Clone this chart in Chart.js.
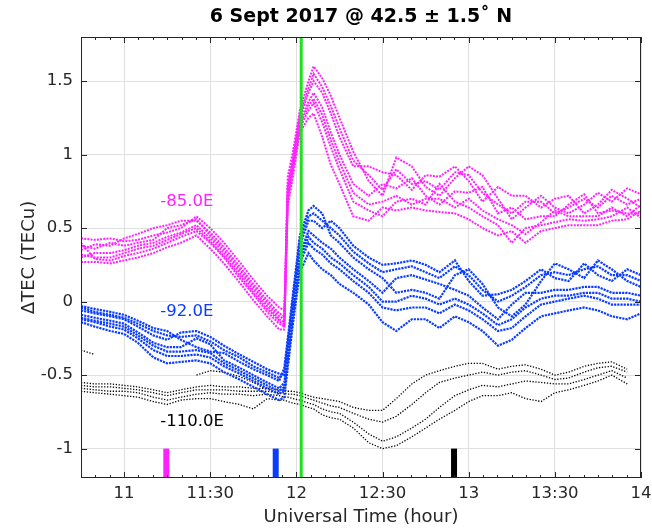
<!DOCTYPE html>
<html>
<head>
<meta charset="utf-8">
<script src="https://cdn.jsdelivr.net/npm/chart.js@4.4.0/dist/chart.umd.min.js"></script>
<style>
  html, body { margin: 0; padding: 0; background: #fff; }
  #wrap { width: 652px; height: 531px; }
</style>
</head>
<body>
<div id="wrap"><canvas id="tec"></canvas></div>
<script>
// sample times (UT, decimal hours)
const times = [10.75, 10.83, 10.92, 11.0, 11.08, 11.17, 11.25, 11.33, 11.42, 11.5,
  11.58, 11.67, 11.75, 11.83, 11.9, 11.93, 11.95, 11.98, 12.02, 12.07,
  12.1, 12.15, 12.2, 12.25, 12.33, 12.42, 12.5, 12.58, 12.67, 12.75,
  12.83, 12.92, 13.0, 13.08, 13.17, 13.25, 13.33, 13.42, 13.5, 13.58,
  13.67, 13.75, 13.83, 13.92, 14.0];

// -85.0E (magenta) satellite tracks
const mag1 = [.43,.42,.43,.41,.42,.45,.47,.50,.58,.50,.40,.27,.15,.04,-.04,-.06,.85,1.02,1.30,1.50,1.60,1.52,1.40,1.25,1.02,.82,.72,.98,.92,.78,.72,.84,.92,.86,.70,.56,.64,.72,.64,.60,.66,.74,.68,.77,.73];
const mag2 = [.35,.39,.38,.43,.46,.50,.52,.55,.55,.47,.37,.24,.12,.01,-.08,-.10,.80,.98,1.25,1.42,1.50,1.42,1.28,1.12,.92,.92,.88,.86,.76,.86,.85,.92,.82,.68,.78,.72,.72,.64,.70,.72,.60,.66,.76,.70,.64];
const mag3 = [.30,.33,.33,.35,.38,.40,.44,.47,.52,.43,.33,.20,.08,-.03,-.12,-.14,.75,.93,1.22,1.36,1.42,1.32,1.15,1.00,.80,.72,.80,.77,.84,.72,.66,.75,.74,.78,.60,.64,.56,.58,.58,.66,.73,.60,.62,.60,.60];
const mag4 = [.40,.29,.28,.31,.33,.36,.40,.44,.48,.40,.30,.16,.05,-.07,-.15,-.17,.70,.90,1.18,1.30,1.35,1.22,1.05,.90,.68,.62,.58,.68,.70,.66,.80,.68,.64,.58,.52,.40,.50,.52,.54,.56,.55,.56,.58,.64,.57];
const mag5 = [.27,.27,.26,.28,.30,.33,.37,.40,.45,.36,.26,.13,.01,-.10,-.19,-.19,.65,.85,1.15,1.25,1.28,1.12,.93,.80,.58,.55,.64,.62,.64,.62,.61,.60,.56,.50,.45,.48,.40,.48,.50,.52,.52,.52,.55,.56,.62];
const mag6 = [.38,.36,.40,.38,.40,.42,.50,.52,.56,.45,.35,.22,.10,-.01,-.10,-.12,.78,.96,1.27,1.45,1.55,1.46,1.33,1.18,.96,.86,.76,.90,.80,.82,.76,.88,.86,.74,.66,.60,.68,.68,.60,.64,.70,.64,.72,.66,.70];
const mag7 = [.32,.30,.30,.33,.36,.38,.42,.46,.50,.41,.31,.18,.06,-.05,-.13,-.16,.72,.92,1.20,1.33,1.38,1.27,1.10,.95,.74,.66,.68,.72,.66,.70,.70,.64,.70,.62,.56,.52,.46,.54,.62,.58,.58,.58,.64,.58,.66];

// -92.0E (blue) satellite tracks
const blu1 = [-.03,-.05,-.07,-.09,-.13,-.18,-.20,-.26,-.31,-.34,-.35,-.41,-.46,-.50,-.54,-.45,-.25,.05,.45,.62,.65,.60,.45,.40,.30,.22,.16,.06,.08,.06,.02,.18,.22,.12,-.04,-.10,-.02,.14,.26,.22,.16,.28,.22,.14,.10];
const blu2 = [-.06,-.08,-.10,-.12,-.17,-.23,-.26,-.21,-.20,-.24,-.30,-.36,-.41,-.46,-.49,-.50,-.30,.00,.38,.55,.55,.50,.55,.50,.38,.30,.25,.26,.28,.25,.20,.28,.14,.04,.05,.08,.14,.22,.16,.14,.26,.18,.14,.22,.18];
const blu3 = [-.09,-.11,-.13,-.15,-.21,-.28,-.31,-.31,-.25,-.29,-.40,-.45,-.50,-.55,-.59,-.55,-.35,-.05,.32,.48,.45,.40,.36,.30,.22,.14,.06,.16,.18,.15,.12,.08,.04,-.04,-.12,-.02,.06,.06,.08,.08,.10,.10,.06,.06,.04];
const blu4 = [-.12,-.14,-.17,-.19,-.25,-.33,-.37,-.37,-.36,-.38,-.44,-.49,-.54,-.59,-.63,-.60,-.40,-.10,.26,.40,.36,.32,.26,.22,.14,.06,-.04,-.06,-.04,-.04,-.08,-.02,-.06,-.12,-.20,-.18,-.10,-.02,.00,.02,.04,.02,-.02,-.02,-.02];
const blu5 = [-.14,-.17,-.20,-.22,-.28,-.38,-.42,-.41,-.40,-.42,-.48,-.53,-.58,-.63,-.67,-.65,-.45,-.15,.20,.33,.28,.22,.18,.12,.06,-.02,-.14,-.20,-.12,-.12,-.18,-.10,-.14,-.20,-.30,-.26,-.18,-.10,-.08,-.06,-.04,-.06,-.10,-.12,-.08];
const blu6 = [-.04,-.07,-.09,-.11,-.15,-.20,-.23,-.24,-.23,-.27,-.33,-.38,-.44,-.48,-.52,-.48,-.28,.02,.42,.58,.60,.55,.50,.45,.34,.26,.20,.22,.24,.20,.16,.24,.18,.08,.00,.04,.10,.18,.20,.18,.22,.24,.18,.18,.14];
const blu7 = [-.11,-.13,-.15,-.17,-.23,-.30,-.34,-.34,-.33,-.35,-.42,-.47,-.52,-.57,-.61,-.58,-.38,-.08,.29,.44,.40,.36,.30,.26,.18,.10,.00,.00,.04,.02,-.02,.02,-.02,-.08,-.16,-.12,-.04,.02,.04,.04,.06,.06,.02,.02,.00];

// -110.0E (black) satellite tracks
const blk1 = [-.33,-.36,null,null,null,null,null,null,-.50,-.47,-.48,-.51,-.55,-.60,null,null,null,null,null,null,null,null,null,null,null,null,null,null,null,null,null,null,null,null,null,null,null,null,null,null,null,null,null,null,null];
const blk2 = [-.55,-.56,-.56,-.57,-.58,-.60,-.62,-.60,-.58,-.57,-.58,-.58,-.59,-.59,-.60,-.60,-.61,-.61,-.62,-.64,-.65,-.66,-.67,-.68,-.72,-.74,-.74,-.66,-.56,-.50,-.47,-.44,-.42,-.42,-.46,-.44,-.43,-.46,-.50,-.48,-.44,-.42,-.41,-.46,null];
const blk3 = [-.57,-.58,-.58,-.59,-.60,-.62,-.64,-.62,-.60,-.60,-.60,-.61,-.61,-.61,-.62,-.62,-.63,-.63,-.64,-.66,-.67,-.69,-.71,-.72,-.76,-.80,-.82,-.78,-.70,-.62,-.55,-.52,-.50,-.48,-.50,-.48,-.47,-.50,-.53,-.52,-.48,-.45,-.44,-.48,null];
const blk4 = [-.59,-.60,-.61,-.61,-.62,-.65,-.67,-.65,-.63,-.62,-.63,-.63,-.64,-.63,-.64,-.65,-.65,-.66,-.67,-.69,-.70,-.73,-.75,-.76,-.82,-.90,-.95,-.92,-.86,-.80,-.72,-.64,-.60,-.57,-.58,-.56,-.54,-.55,-.56,-.56,-.53,-.50,-.47,-.52,null];
const blk5 = [-.61,-.62,-.63,-.64,-.65,-.68,-.70,-.67,-.66,-.66,-.68,-.70,-.73,-.66,-.67,-.67,-.68,-.69,-.70,-.72,-.73,-.77,-.79,-.80,-.86,-.96,-1.00,-.98,-.92,-.86,-.80,-.74,-.68,-.64,-.64,-.62,-.66,-.68,-.62,-.60,-.57,-.54,-.50,-.56,null];

const xTickValues = [11, 11.5, 12, 12.5, 13, 13.5, 14];
const xTickLabels = ['11', '11:30', '12', '12:30', '13', '13:30', '14'];
const yTickValues = [-1, -0.5, 0, 0.5, 1, 1.5];
const yTickLabels = ['-1', '-0.5', '0', '0.5', '1', '1.5'];

const bandNames = ['-85.0E', '-92.0E', '-110.0E'];
const bandLabelTime = [11.21, 11.21, 11.21];
const bandLabelValue = [0.68, -0.07, -0.82];

const markerTimes = [11.245, 11.88, 12.915];
const markerRange = [-1.2, -1.0];
const onsetTime = 12.028;

const TITLE = '6 Sept 2017 @ 42.5 \u00B1 1.5\u02DA N';
const MAGENTA = '#ff22ff';
const BLUE = '#0a3cff';
const BLACK = '#000000';
const GREEN = '#1ee01e';
const AXIS = '#262626';
const FONT = '"DejaVu Sans", sans-serif';
const bandColors = [MAGENTA, BLUE, BLACK];

function trace(values, color, width, dash) {
  return {
    data: times.map((t, i) => ({ x: t, y: values[i] })),
    borderColor: color,
    borderWidth: width,
    borderDash: dash,
    pointRadius: 0,
    spanGaps: false,
    tension: 0,
    fill: false,
  };
}

function vline(t, lo, hi, color, width) {
  return {
    data: [{ x: t, y: lo }, { x: t, y: hi }],
    borderColor: color,
    borderWidth: width,
    borderCapStyle: 'butt',
    pointRadius: 0,
    fill: false,
  };
}

// frame + inward ticks (major and 5-minute minor), like the original axes box
const axisFrame = {
  id: 'axisFrame',
  afterDatasetsDraw(chart) {
    const { ctx, chartArea: a, scales: { x, y } } = chart;
    ctx.save();
    ctx.strokeStyle = AXIS;
    ctx.lineWidth = 1;
    ctx.strokeRect(a.left + 0.5, a.top + 0.5, a.right - a.left - 1, a.bottom - a.top - 1);
    ctx.beginPath();
    for (let m = 0; m <= 195; m += 5) {
      const t = 10.75 + m / 60;
      const major = xTickValues.some(v => Math.abs(v - t) < 1e-6);
      const len = major ? 6 : 3;
      const px = Math.round(x.getPixelForValue(t)) + 0.5;
      ctx.moveTo(px, a.bottom); ctx.lineTo(px, a.bottom - len);
      ctx.moveTo(px, a.top); ctx.lineTo(px, a.top + len);
    }
    yTickValues.forEach(v => {
      const py = Math.round(y.getPixelForValue(v)) + 0.5;
      ctx.moveTo(a.left, py); ctx.lineTo(a.left + 6, py);
      ctx.moveTo(a.right, py); ctx.lineTo(a.right - 6, py);
    });
    ctx.stroke();
    ctx.restore();
  }
};

// band names and the title (centred over the plot box, not the canvas)
const annotations = {
  id: 'annotations',
  afterDraw(chart) {
    const { ctx, chartArea: a, scales: { x, y } } = chart;
    ctx.save();
    ctx.font = '16.5px ' + FONT;
    ctx.textBaseline = 'middle';
    ctx.textAlign = 'left';
    bandNames.forEach((name, i) => {
      ctx.fillStyle = bandColors[i];
      ctx.fillText(name, x.getPixelForValue(bandLabelTime[i]), y.getPixelForValue(bandLabelValue[i]));
    });
    ctx.font = 'bold 19px ' + FONT;
    ctx.textAlign = 'center';
    ctx.fillStyle = '#000';
    ctx.fillText(TITLE, (a.left + a.right) / 2, 17);
    ctx.restore();
  }
};

const datasets = [
  vline(onsetTime, -1.2, 1.8, GREEN, 3),
  ...markerTimes.map((t, i) => vline(t, markerRange[0], markerRange[1], bandColors[i], 6)),
  ...[mag1, mag2, mag3, mag4, mag5, mag6, mag7].map(v => trace(v, MAGENTA, 2.0, [2.0, 1.2])),
  ...[blu1, blu2, blu3, blu4, blu5, blu6, blu7].map(v => trace(v, BLUE, 2.2, [2.2, 1.0])),
  ...[blk1, blk2, blk3, blk4, blk5].map(v => trace(v, BLACK, 1.3, [1.3, 1.6])),
];

new Chart(document.getElementById('tec'), {
  type: 'line',
  data: { datasets },
  options: {
    responsive: true,
    maintainAspectRatio: false,
    animation: false,
    layout: { padding: { left: 0, right: 11, top: 37, bottom: 0 } },
    plugins: {
      legend: { display: false },
      tooltip: { enabled: false },
      title: { display: false },
    },
    scales: {
      x: {
        type: 'linear',
        min: 10.75,
        max: 14,
        afterBuildTicks: s => { s.ticks = xTickValues.map(v => ({ value: v })); },
        afterFit: s => { s.height = 53; s.paddingLeft = 0; s.paddingRight = 0; },
        grid: { color: '#e0e0e0', drawTicks: false },
        border: { display: false },
        ticks: {
          callback: (v, i) => xTickLabels[i],
          color: AXIS,
          font: { family: FONT, size: 16.5 },
          padding: 6,
          autoSkip: false,
          maxRotation: 0,
        },
        title: {
          display: true,
          text: 'Universal Time (hour)',
          color: AXIS,
          font: { family: FONT, size: 18 },
          padding: { top: 0, bottom: 3 },
        },
      },
      y: {
        min: -1.2,
        max: 1.8,
        afterBuildTicks: s => { s.ticks = yTickValues.map(v => ({ value: v })); },
        afterFit: s => { s.width = 81; s.paddingTop = 0; s.paddingBottom = 0; },
        grid: { color: '#e0e0e0', drawTicks: false },
        border: { display: false },
        ticks: {
          callback: (v, i) => yTickLabels[i],
          color: AXIS,
          font: { family: FONT, size: 16.5 },
          padding: 8,
        },
        title: {
          display: true,
          text: '\u0394TEC (TECu)',
          color: AXIS,
          font: { family: FONT, size: 18 },
          padding: { top: 19, bottom: 0 },
        },
      },
    },
  },
  plugins: [axisFrame, annotations],
});
</script>
</body>
</html>
